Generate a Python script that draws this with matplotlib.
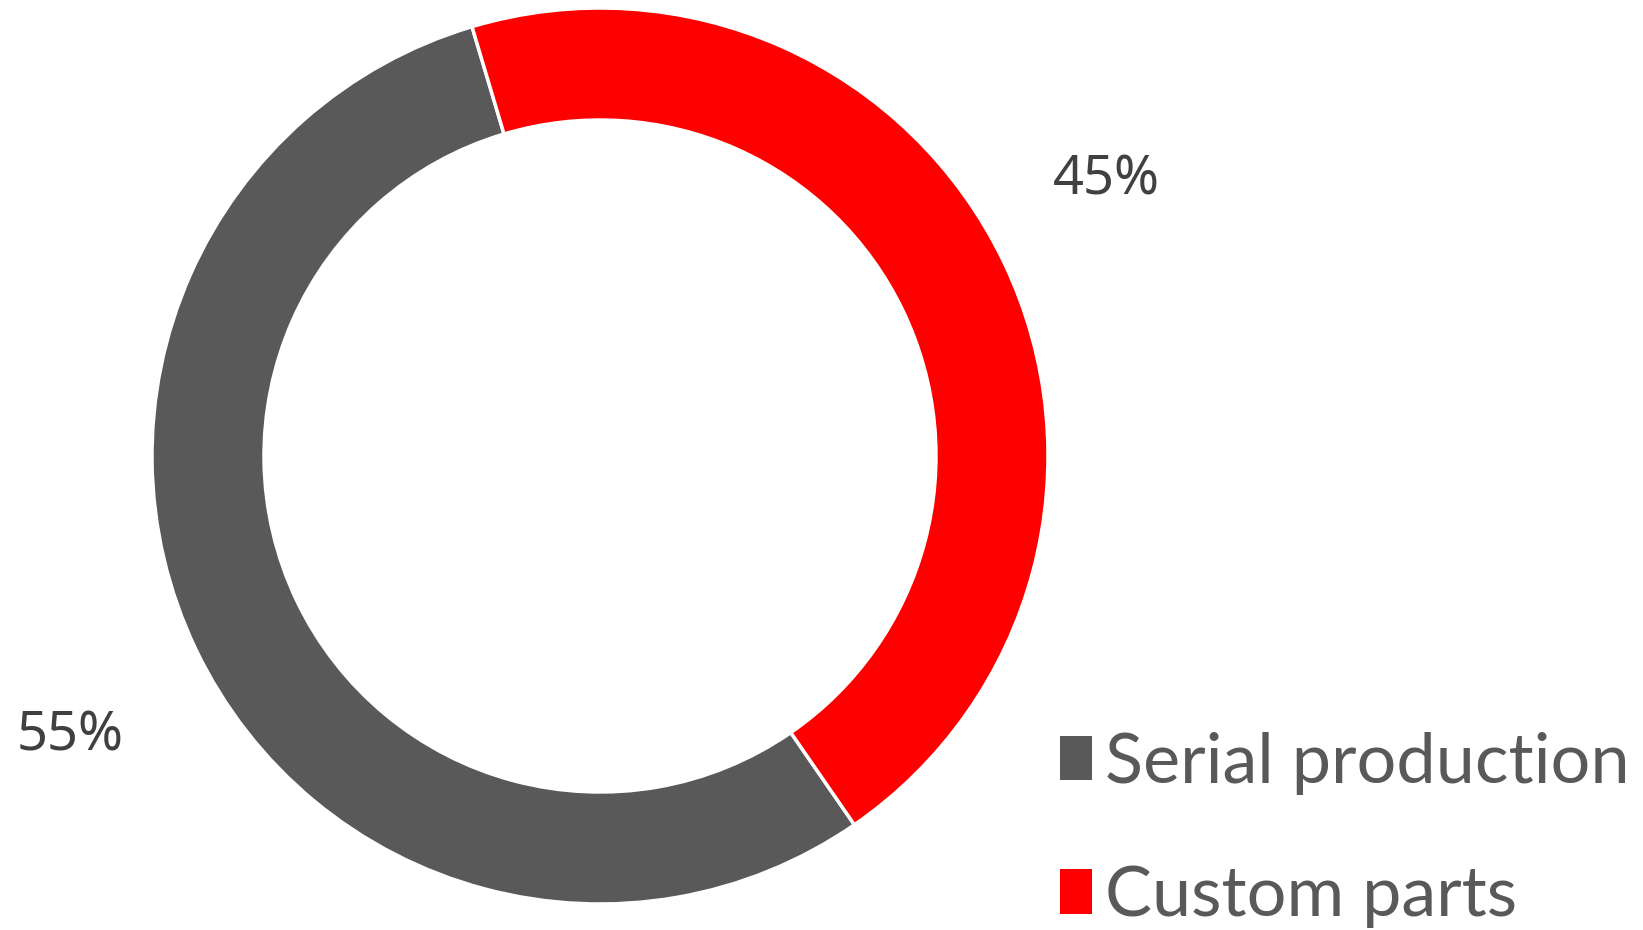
import matplotlib.pyplot as plt
from matplotlib.patches import Patch

# chart data
labels = ["Serial production", "Custom parts"]
shares = [55, 45]
colors = ["#595959", "#FF0000"]

W, H = 1643, 930
fig = plt.figure(figsize=(W / 100, H / 100), dpi=100)

# donut centre and radius in pixels
cx, cy, r = 600, 474, 448
ax = fig.add_axes([(cx - r) / W, (cy - r) / H, 2 * r / W, 2 * r / H])

wedges, _ = ax.pie(
    shares,
    colors=colors,
    startangle=106.6,
    radius=1.0,
    wedgeprops=dict(width=0.25, edgecolor="white", linewidth=2.5),
)
ax.set_xlim(-1, 1)
ax.set_ylim(-1, 1)
ax.set_aspect("equal")
ax.axis("off")

# percentage labels
label_pos = [(-1.183, -0.625), (1.13, 0.617)]
for v, (x, y) in zip(shares, label_pos):
    ax.text(x, y, f"{v}%", ha="center", va="center", fontsize=39,
            color="#404040", family="Noto Sans", clip_on=False)

handles = [Patch(facecolor=c, edgecolor="none") for c in colors]
fig.legend(
    handles, labels,
    loc="center left",
    bbox_to_anchor=(1060 / W, 1 - 830 / H),
    frameon=False,
    prop=dict(family="Lato", size=50.5),
    labelcolor="#595959",
    handlelength=0.46,
    handleheight=0.6,
    handletextpad=0.18,
    labelspacing=1.0,
    borderpad=0,
    borderaxespad=0,
)

fig.savefig("out.png", dpi=100)
